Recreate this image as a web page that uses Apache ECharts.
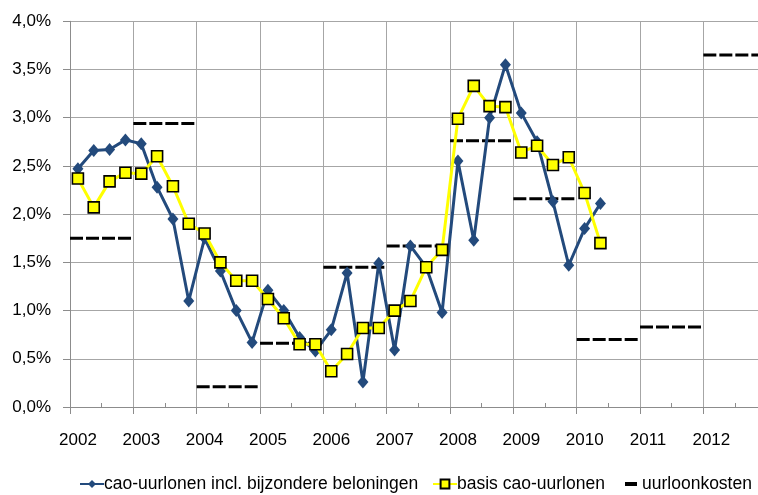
<!DOCTYPE html>
<html>
<head>
<meta charset="utf-8">
<script src="https://cdn.jsdelivr.net/npm/echarts@6/dist/echarts.min.js"></script>
<style>
html,body{margin:0;padding:0;background:#fff;}
#chart{width:758px;height:495px;}
</style>
</head>
<body>
<div id="chart"></div>
<script>
// Quarterly periods (first quarter 2002 .. second quarter 2010)
var quarters = [
  '2002-1','2002-2','2002-3','2002-4',
  '2003-1','2003-2','2003-3','2003-4',
  '2004-1','2004-2','2004-3','2004-4',
  '2005-1','2005-2','2005-3','2005-4',
  '2006-1','2006-2','2006-3','2006-4',
  '2007-1','2007-2','2007-3','2007-4',
  '2008-1','2008-2','2008-3','2008-4',
  '2009-1','2009-2','2009-3','2009-4',
  '2010-1','2010-2'
];
// cao-uurlonen incl. bijzondere beloningen (%)
var caoIncl = [
  2.47, 2.66, 2.67, 2.77,
  2.73, 2.28, 1.95, 1.10,
  1.75, 1.41, 1.00, 0.67,
  1.21, 1.00, 0.72, 0.58,
  0.80, 1.39, 0.26, 1.49,
  0.59, 1.67, 1.45, 0.98,
  2.55, 1.73, 3.00, 3.55,
  3.05, 2.75, 2.13, 1.47,
  1.85, 2.11
];
// basis cao-uurlonen (%)
var caoBasis = [
  2.37, 2.07, 2.34, 2.43,
  2.42, 2.60, 2.29, 1.90,
  1.80, 1.50, 1.31, 1.31,
  1.12, 0.92, 0.65, 0.65,
  0.37, 0.55, 0.82, 0.82,
  1.00, 1.10, 1.45, 1.63,
  2.99, 3.33, 3.12, 3.11,
  2.64, 2.71, 2.51, 2.59,
  2.22, 1.70
];
// uurloonkosten, yearly (%)
var years = [2002, 2003, 2004, 2005, 2006, 2007, 2008, 2009, 2010, 2011, 2012];
var uurloonkosten = [1.75, 2.94, 0.21, 0.66, 1.45, 1.67, 2.76, 2.16, 0.70, 0.83, 3.65];
var yTicks = [0, 0.5, 1, 1.5, 2, 2.5, 3, 3.5, 4];

var names = ['cao-uurlonen incl. bijzondere beloningen', 'basis cao-uurlonen', 'uurloonkosten'];

function quarterPos(q) {
  var p = q.split('-');
  return Number(p[0]) + (Number(p[1]) - 0.5) / 4;
}
var blueData = quarters.map(function (q, i) { return [quarterPos(q), caoIncl[i]]; });
var yellowData = quarters.map(function (q, i) { return [quarterPos(q), caoBasis[i]]; });
var dashData = [];
years.forEach(function (y, i) {
  dashData.push([y, uurloonkosten[i]]);
  dashData.push([y + 1, uurloonkosten[i]]);
  dashData.push([y + 1, '-']);
});

var FONT = 'Liberation Sans';
var chart = echarts.init(document.getElementById('chart'), null, {renderer: 'canvas'});
chart.setOption({
  animation: false,
  backgroundColor: '#ffffff',
  grid: {left: 70, top: 21.3, bottom: 88, right: 0, containLabel: false},
  xAxis: {
    type: 'value',
    min: 2002, max: 2012.863, interval: 1,
    axisLine: {show: true, lineStyle: {color: '#8c8c8c', width: 1}},
    axisTick: {show: true, length: 7, lineStyle: {color: '#8c8c8c'}},
    minorTick: {show: true, splitNumber: 2, length: -4, lineStyle: {color: '#8c8c8c'}},
    splitLine: {show: true, lineStyle: {color: '#a6a6a6', width: 1}},
    axisLabel: {
      show: true, margin: 25, padding: [0, 0, 0, 16],
      fontFamily: FONT, fontSize: 17, color: '#000',
      showMaxLabel: false,
      formatter: function (v) { return (v === Math.round(v) && v <= 2012) ? String(v) : ''; }
    }
  },
  yAxis: {
    type: 'value',
    min: yTicks[0], max: yTicks[yTicks.length - 1], interval: 0.5,
    axisLine: {show: true, lineStyle: {color: '#8c8c8c', width: 1}},
    axisTick: {show: true, length: 7, lineStyle: {color: '#8c8c8c'}},
    splitLine: {show: true, lineStyle: {color: '#a6a6a6', width: 1}},
    axisLabel: {
      margin: 19, fontFamily: FONT, fontSize: 17, color: '#000',
      formatter: function (v) { return v.toFixed(1).replace('.', ',') + '%'; }
    }
  },
  legend: [
    {
      data: [names[0]], left: 74, top: 470, itemWidth: 24, itemHeight: 10, itemGap: 0,
      textStyle: {fontFamily: FONT, fontSize: 17.5, color: '#000', padding: [0,0,0,-5]}
    },
    {
      data: [names[1]], left: 427, top: 470, itemWidth: 24, itemHeight: 11, itemGap: 0,
      textStyle: {fontFamily: FONT, fontSize: 17.5, color: '#000', padding: [0,0,0,-5]}
    },
    {
      data: [{name: names[2], icon: 'rect'}], left: 620, top: 470, itemWidth: 12, itemHeight: 4, itemGap: 0,
      itemStyle: {color: '#000'},
      textStyle: {fontFamily: FONT, fontSize: 17.5, color: '#000', padding: [0,0,0,0]}
    }
  ],
  series: [
    {
      name: names[2], type: 'line', data: dashData, symbol: 'none', z: 2,
      connectNulls: false,
      lineStyle: {color: '#000', width: 3, type: [13, 3], cap: 'butt'},
      itemStyle: {color: '#000'}
    },
    {
      name: names[0], type: 'line', data: blueData, z: 3,
      symbol: 'diamond', symbolSize: [11, 13],
      lineStyle: {color: '#234a7c', width: 3},
      itemStyle: {color: '#234a7c', borderWidth: 0}
    },
    {
      name: names[1], type: 'line', data: yellowData, z: 4,
      symbol: 'rect', symbolSize: 11,
      lineStyle: {color: '#ffff00', width: 3},
      itemStyle: {color: '#ffff00', borderColor: '#000', borderWidth: 1.6}
    }
  ]
});
</script>
</body>
</html>
